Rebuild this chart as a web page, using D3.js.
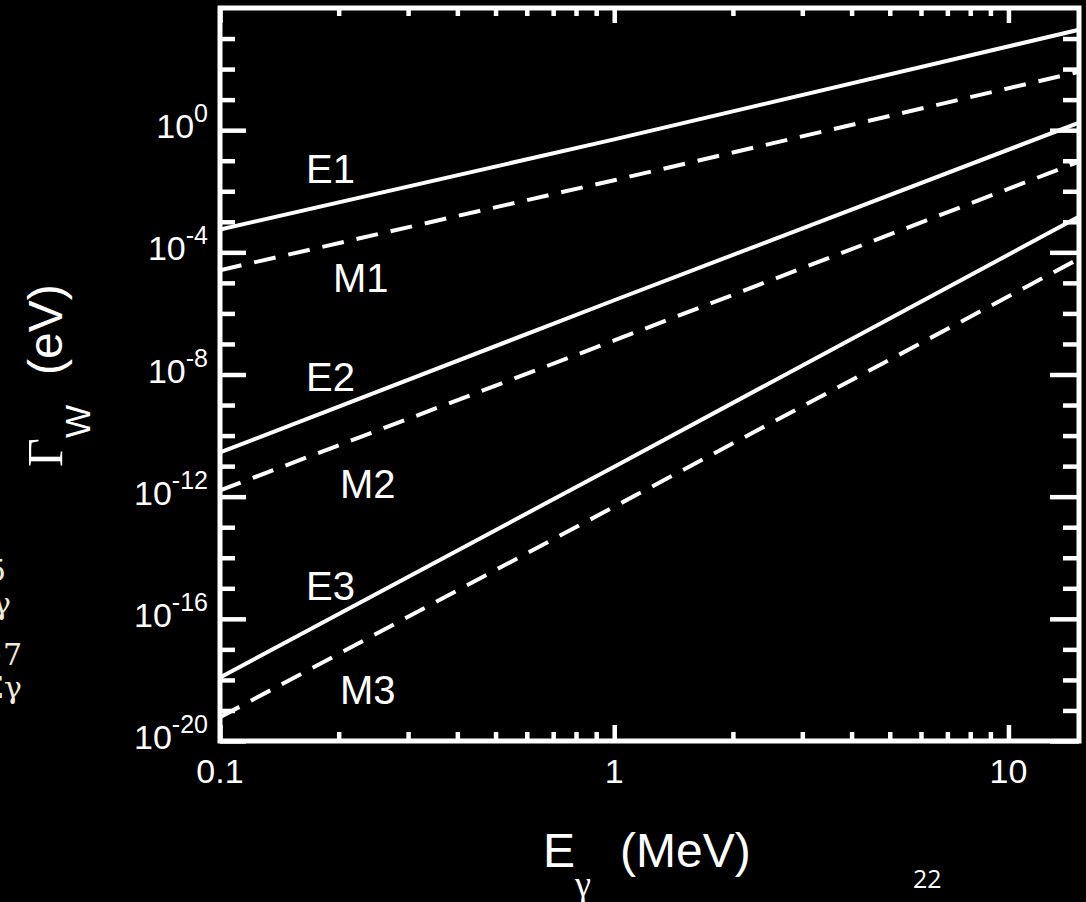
<!DOCTYPE html>
<html>
<head>
<meta charset="utf-8">
<script src="https://cdn.jsdelivr.net/npm/d3@7"></script>
<style>
  html, body { margin: 0; padding: 0; background: #000; overflow: hidden; }
  svg { display: block; }
</style>
</head>
<body>
<svg id="chart" width="1086" height="902"></svg>
<script>

// Photon energies (MeV) at which the widths were read.
var energies = [0.1, 1, 15];

// Weisskopf widths (eV) for each multipole.
var widthE1 = [5.6e-4, 0.5, 1.9e3];
var widthM1 = [2.6e-5, 0.023, 80];
var widthE2 = [2.8e-11, 2.7e-6, 1.7];
var widthM2 = [1.6e-12, 1.3e-7, 0.09];
var widthE3 = [1.2e-18, 9.6e-12, 1.4e-3];
var widthM3 = [6.0e-20, 4.7e-13, 5.9e-5];

var seriesNames = ['E1', 'M1', 'E2', 'M2', 'E3', 'M3'];
var seriesWidths = [widthE1, widthM1, widthE2, widthM2, widthE3, widthM3];

var xTickValues = [0.1, 1, 10];
var xTickLabels = ['0.1', '1', '10'];
var yTickExponents = [0, -4, -8, -12, -16, -20];


var svg = d3.select('#chart');
var frame = { left: 220, right: 1079, top: 8, bottom: 741 };

var x = d3.scaleLog().domain([0.1, 15.1]).range([frame.left, frame.right]);
var y = d3.scaleLog().domain([1e-20, 1e4]).range([frame.bottom, frame.top]);


/**
 * Minor tick values: 2..9 in every decade on x, every decade on y.
 */
var xMinor = [];
[0.1, 1, 10].forEach(function(d) {
  d3.range(2, 10).forEach(function(m) {
    if (d * m <= 15.1) xMinor.push(d * m);
  });
});
var yMinor = d3.range(-19, 4).filter(function(e) {
  return e % 4 !== 0;
}).map(function(e) { return Math.pow(10, e); });
var yMajor = yTickExponents.map(function(e) { return Math.pow(10, e); });


/**
 * Draw one set of inward ticks.
 */
function ticks(axis, scale, values, size, tx, ty) {
  var g = svg.append('g')
    .attr('transform', 'translate(' + tx + ',' + ty + ')')
    .call(axis(scale).tickValues(values).tickSizeInner(size)
      .tickSizeOuter(0).tickFormat(''));
  g.select('.domain').remove();
  g.selectAll('line')
    .attr('stroke', '#fff')
    .attr('stroke-width', 4.5);
  return g;
}

ticks(d3.axisBottom, x, xMinor, -9, 0, frame.bottom);
ticks(d3.axisBottom, x, xTickValues, -16, 0, frame.bottom);
ticks(d3.axisTop, x, xMinor, -8, 0, frame.top);
ticks(d3.axisTop, x, xTickValues, -15, 0, frame.top);
ticks(d3.axisLeft, y, yMinor, -15, frame.left, 0);
ticks(d3.axisLeft, y, yMajor, -26, frame.left, 0);
ticks(d3.axisRight, y, yMinor, -16, frame.right, 0);
ticks(d3.axisRight, y, yMajor, -29, frame.right, 0);


// Curves, clipped to the frame.
svg.append('clipPath').attr('id', 'plot-clip')
  .append('rect')
  .attr('x', frame.left).attr('y', frame.top)
  .attr('width', frame.right - frame.left)
  .attr('height', frame.bottom - frame.top);

var line = d3.line()
  .x(function(d) { return x(d[0]); })
  .y(function(d) { return y(d[1]); });

svg.append('g').attr('clip-path', 'url(#plot-clip)')
  .selectAll('path')
  .data(seriesWidths)
  .join('path')
  .attr('d', function(w) { return line(d3.zip(energies, w)); })
  .attr('fill', 'none')
  .attr('stroke', '#fff')
  .attr('stroke-width', 4)
  .attr('stroke-dasharray', function(w, i) {
    return seriesNames[i][0] === 'M' ? '22,13' : null;
  });


// Frame.
svg.append('rect')
  .attr('x', frame.left).attr('y', frame.top)
  .attr('width', frame.right - frame.left)
  .attr('height', frame.bottom - frame.top)
  .attr('fill', 'none')
  .attr('stroke', '#fff')
  .attr('stroke-width', 5);


// Curve labels.
var labelPos = [[306, 183], [333, 292], [306, 391], [340, 498],
  [306, 600], [340, 704]];

svg.append('g')
  .selectAll('text')
  .data(seriesNames)
  .join('text')
  .attr('x', function(d, i) { return labelPos[i][0]; })
  .attr('y', function(d, i) { return labelPos[i][1]; })
  .attr('fill', '#fff')
  .attr('font-family', 'Liberation Sans, Arial, sans-serif')
  .attr('font-size', 40)
  .text(function(d) { return d; });


// Tick labels.
svg.append('g')
  .selectAll('text')
  .data(xTickValues)
  .join('text')
  .attr('x', function(d) { return x(d); })
  .attr('y', 783)
  .attr('text-anchor', 'middle')
  .attr('fill', '#fff')
  .attr('font-family', 'Liberation Sans, Arial, sans-serif')
  .attr('font-size', 34)
  .text(function(d, i) { return xTickLabels[i]; });

var yLabels = svg.append('g')
  .selectAll('text')
  .data(yTickExponents)
  .join('text')
  .attr('x', 208)
  .attr('y', function(e) { return y(Math.pow(10, e)) + 8; })
  .attr('text-anchor', 'end')
  .attr('fill', '#fff')
  .attr('font-family', 'Liberation Sans, Arial, sans-serif')
  .attr('font-size', 34);
yLabels.append('tspan').text('10');
yLabels.append('tspan')
  .attr('dy', -16)
  .attr('font-size', 25)
  .text(function(e) { return e === 0 ? '0' : '-' + (-e); });


// Axis titles.
var yTitle = svg.append('text')
  .attr('transform', 'translate(62,467) rotate(-90)')
  .attr('fill', '#fff')
  .attr('font-family', 'Liberation Sans, Arial, sans-serif')
  .attr('font-size', 48);
yTitle.append('tspan')
  .attr('font-family', 'Liberation Serif, Times New Roman, serif')
  .attr('font-size', 50)
  .text('\u0393');
yTitle.append('tspan').attr('font-size', 35).attr('dy', 28).text('W');
yTitle.append('tspan').attr('dx', 30).attr('dy', -28).text('(eV)');

var xTitle = svg.append('text')
  .attr('x', 543).attr('y', 867)
  .attr('fill', '#fff')
  .attr('font-family', 'Liberation Sans, Arial, sans-serif')
  .attr('font-size', 48);
xTitle.append('tspan').text('E');
xTitle.append('tspan')
  .attr('font-family', 'Liberation Serif, Times New Roman, serif')
  .attr('font-size', 36)
  .attr('dy', 29)
  .text('\u03b3');
xTitle.append('tspan').attr('x', 620).attr('dy', -29).text('(MeV)');


// Slide leftovers: clipped formula fragments and page number.
var fragments = [['5', 6, 581], ['\u03b3', 11, 614], ['\u22127', 22, 665],
  ['E\u03b3', 22, 698]];
svg.append('g')
  .selectAll('text')
  .data(fragments)
  .join('text')
  .attr('x', function(d) { return d[1]; })
  .attr('y', function(d) { return d[2]; })
  .attr('text-anchor', 'end')
  .attr('fill', '#f2ecd6')
  .attr('font-family', 'DejaVu Serif, Liberation Serif, serif')
  .attr('font-size', 30)
  .text(function(d) { return d[0]; });

svg.append('text')
  .attr('x', 913).attr('y', 888)
  .attr('fill', '#fff')
  .attr('font-family', 'Open Sans, sans-serif')
  .attr('font-size', 25)
  .text('22');

</script>
</body>
</html>
